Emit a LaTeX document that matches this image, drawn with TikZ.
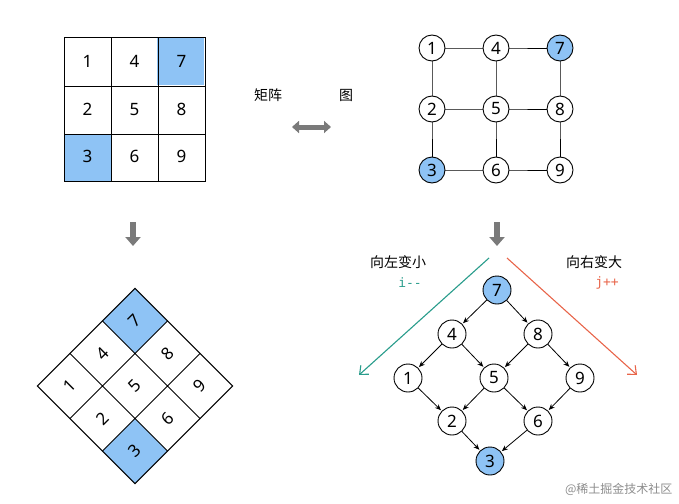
\documentclass[tikz,border=0pt]{standalone}
\usepackage{fontspec}
\setmainfont{Noto Sans}
\setmonofont{DejaVu Sans Mono}
\newfontfamily\cjk{Noto Sans CJK SC}
\usetikzlibrary{arrows.meta}
\definecolor{cblue}{HTML}{8EC3F5}
\definecolor{cgreen}{HTML}{2A9D8C}
\definecolor{corange}{HTML}{E8654A}
\definecolor{cgray}{HTML}{7A7A7A}
\tikzset{
  num/.style={font=\fontsize{17}{17}\selectfont},
  vtx/.style={circle,draw,line width=0.9pt,minimum size=26pt,inner sep=0pt,fill=white,font=\fontsize{17}{17}\selectfont},
  tvtx/.style={vtx,minimum size=28pt},
  hl/.style={fill=cblue},
  arr/.style={-{Stealth[length=6pt,width=5pt]},line width=0.8pt,shorten >=1pt},
  big/.style={-{Straight Barb[length=7pt,width=12pt]},line width=1.1pt},
  lbl/.style={font=\cjk\fontsize{14}{14}\selectfont}
}
\begin{document}
\begin{tikzpicture}[x=1pt,y=-1pt]
\useasboundingbox (0,0) rectangle (679,503);
% top-left matrix
\fill[cblue] (157,38) rectangle (204,85);
\fill[cblue] (64,134) rectangle (111,181);
\draw[line width=1pt] (64,38) rectangle (205,181);
\draw[line width=1pt] (111,38)--(111,181) (158,38)--(158,181) (64,86)--(205,86) (64,134)--(205,134);
\foreach \n/\c/\r in {1/0/0,4/1/0,7/2/0,2/0/1,5/1/1,8/2/1,3/0/2,6/1/2,9/2/2}
  \node[num] (m\n) at (87.5+47*\c,61.5+47.7*\r) {\n};
% top-right graph
\foreach \n/\c/\r in {1/0/0,4/1/0,7/2/0,2/0/1,5/1/1,8/2/1,3/0/2,6/1/2,9/2/2}
  \coordinate (p\n) at (432+64*\c,48+61*\r);
\draw[line width=0.9pt] (p1)--(p4)--(p7) (p2)--(p5)--(p8) (p3)--(p6)--(p9)
  (p1)--(p2)--(p3) (p4)--(p5)--(p6) (p7)--(p8)--(p9);
\foreach \n in {1,4,2,5,8,6,9} \node[vtx] (g\n) at (p\n) {\n};
\node[vtx,hl] (g7) at (p7) {7};
\node[vtx,hl] (g3) at (p3) {3};
% middle labels
\node[lbl] (t1) at (268,95) {矩阵};
\node[lbl] (t2) at (346,95) {图};
\coordinate (da) at (292,127); \coordinate (db) at (331,127);
\draw[cgray,line width=5pt,{Triangle[length=7pt,width=12pt]}-{Triangle[length=7pt,width=12pt]}] (da)--(db);
% down arrows
\coordinate (d1a) at (133,222); \coordinate (d1b) at (133,246);
\coordinate (d2a) at (497,222); \coordinate (d2b) at (497,246);
\draw[cgray,line width=6pt,-{Triangle[length=9pt,width=15pt]}] (d1a)--(d1b);
\draw[cgray,line width=6pt,-{Triangle[length=9pt,width=15pt]}] (d2a)--(d2b);
% diamond
\begin{scope}[shift={(135,386)},rotate=45]
  \fill[cblue] (23,-69) rectangle (69,-23);
  \fill[cblue] (-69,23) rectangle (-23,69);
  \draw[line width=1pt] (-69,-69) rectangle (69,69);
  \draw[line width=1pt] (-23,-69)--(-23,69) (23,-69)--(23,69) (-69,-23)--(69,-23) (-69,23)--(69,23);
  \foreach \n/\c/\r in {1/0/0,4/1/0,7/2/0,2/0/1,5/1/1,8/2/1,3/0/2,6/1/2,9/2/2}
    \node[num,rotate=45] (r\n) at (-46+46*\c,-46+46*\r) {\n};
\end{scope}
% tree
\node[tvtx,hl] (a7) at (497,290) {7};
\node[tvtx] (a4) at (452,334) {4};
\node[tvtx] (a8) at (538,334) {8};
\node[tvtx] (a1) at (408,378) {1};
\node[tvtx] (a5) at (494,378) {5};
\node[tvtx] (a9) at (580,378) {9};
\node[tvtx] (a2) at (452,421) {2};
\node[tvtx] (a6) at (538,421) {6};
\node[tvtx,hl] (a3) at (490,461) {3};
\foreach \s/\t in {7/4,7/8,4/1,4/5,8/5,8/9,1/2,5/2,5/6,9/6,2/3,6/3}
  \draw[arr] (a\s)--(a\t);
% direction arrows
\coordinate (ga) at (489,258); \coordinate (gb) at (359,375);
\coordinate (oa) at (507,258); \coordinate (ob) at (637,375);
\draw[big,cgreen] (ga)--(gb);
\draw[big,corange] (oa)--(ob);
\node[lbl] (l1) at (398,262) {向左变小};
\node[font=\ttfamily\fontsize{13}{13}\selectfont,text=cgreen] (l2) at (410,283) {i-{}-};
\node[lbl] (l3) at (594,262) {向右变大};
\node[font=\ttfamily\fontsize{13}{13}\selectfont,text=corange] (l4) at (607,283) {j++};
\node[font=\cjk\fontsize{12}{12}\selectfont,text=black!45,anchor=east] (wm) at (676,489) {@稀土掘金技术社区};
\end{tikzpicture}
\end{document}
